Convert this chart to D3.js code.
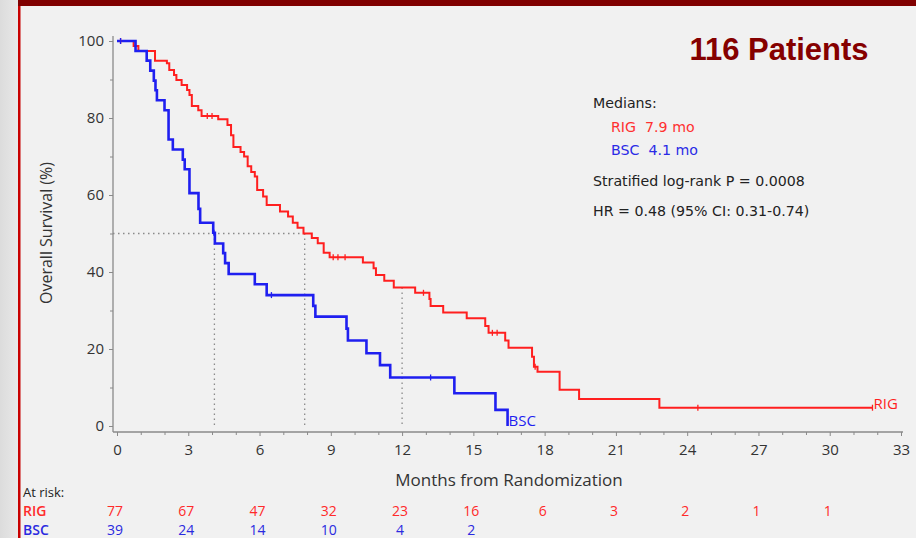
<!DOCTYPE html>
<html>
<head>
<meta charset="utf-8">
<script src="https://cdn.jsdelivr.net/npm/d3@7/dist/d3.min.js"></script>
<style>
  html, body { margin: 0; padding: 0; background: #f1f1f1; }
  svg { display: block; }
</style>
</head>
<body>
<svg id="chart" width="916" height="538"></svg>
<script>
// ---------------- DATA ----------------
const rigTime = [0, 0.7, 0.9, 1.6, 2.1, 2.2, 2.4, 2.5, 2.72, 2.95, 3.05, 3.15, 3.42, 3.56, 4.26, 4.65, 4.8, 4.9, 5.2, 5.35, 5.5, 5.65, 5.8, 5.9, 6.15, 6.3, 6.86, 7.2, 7.4, 7.6, 7.85, 8.2, 8.45, 8.7, 8.95, 10.35, 10.8, 10.9, 11.25, 11.65, 12.55, 13.15, 13.2, 13.73, 14.72, 15.5, 15.64, 16.34, 16.48, 17.47, 17.55, 17.7, 18.63, 19.45, 22.83, 31.8];
const rigSurv = [100, 98.7, 97.4, 94.9, 94.2, 92.5, 91.2, 89.9, 88.6, 87.3, 86.0, 83.1, 82.0, 80.5, 79.7, 78.2, 75.5, 72.5, 71.2, 70.0, 67.5, 66.0, 64.8, 61.3, 59.6, 57.4, 55.7, 54.4, 52.8, 51.5, 50.0, 48.8, 47.5, 45.0, 43.8, 42.5, 41.0, 39.2, 37.7, 36.0, 34.6, 33.0, 31.2, 29.5, 28.0, 26.0, 24.2, 22.2, 20.3, 18.0, 15.4, 14.1, 9.4, 7.0, 4.75, 4.75];
const rigCensT = [0.15, 3.8, 4.0, 9.1, 9.3, 9.6, 12.9, 15.8, 16.0, 17.6, 24.45, 31.8];

const bscTime = [0, 0.78, 1.25, 1.4, 1.55, 1.62, 1.68, 2.0, 2.17, 2.35, 2.77, 2.85, 3.05, 3.43, 3.5, 4.05, 4.12, 4.47, 4.55, 4.7, 5.8, 6.3, 8.26, 8.35, 9.66, 9.72, 10.5, 11.07, 11.5, 14.2, 15.93, 16.44];
const bscSurv = [100, 97.4, 94.9, 92.3, 89.7, 87.2, 84.6, 82.0, 74.4, 71.8, 69.2, 66.7, 60.5, 56.4, 52.8, 50.2, 47.4, 44.9, 42.3, 39.5, 36.8, 34.0, 31.2, 28.4, 25.3, 22.2, 18.9, 15.8, 12.6, 8.5, 4.2, 0];
const bscCensT = [0.15, 4.08, 6.5, 13.2];

const xTicks = [0, 3, 6, 9, 12, 15, 18, 21, 24, 27, 30, 33];
const yTicks = [0, 20, 40, 60, 80, 100];
const riskTimes = [0, 3, 6, 9, 12, 15, 18, 21, 24, 27, 30];
const rigRisk = [77, 67, 47, 32, 23, 16, 6, 3, 2, 1, 1];
const bscRisk = [39, 24, 14, 10, 4, 2];

const medians = { RIG: 7.9, BSC: 4.1 };
const landmark = 12;
const titleText = "116 Patients";
const legendLines = ["Medians:", "RIG  7.9 mo", "BSC  4.1 mo", "Stratified log-rank P = 0.0008", "HR = 0.48 (95% CI: 0.31-0.74)"];

// ---------------- SETUP ----------------
const RED = "#ff1f1f", BLUE = "#1f1ff0";
const svg = d3.select("#chart");
const font = "'Open Sans', 'Noto Sans', sans-serif";
const legFont = "'DejaVu Sans', Verdana, sans-serif";

svg.append("rect").attr("width", 916).attr("height", 538).attr("fill", "#f1f1f1");
const grad = svg.append("defs").append("linearGradient").attr("id", "lg").attr("x1", 0).attr("x2", 1);
grad.append("stop").attr("offset", 0).attr("stop-color", "#dcdcdc");
grad.append("stop").attr("offset", 1).attr("stop-color", "#e8e8e8");
svg.append("rect").attr("x", 0).attr("y", 0).attr("width", 18).attr("height", 538).attr("fill", "url(#lg)");
svg.append("rect").attr("x", 18).attr("y", 0).attr("width", 2.5).attr("height", 538).attr("fill", "#c80000");
svg.append("rect").attr("x", 18).attr("y", 0).attr("width", 898).attr("height", 6).attr("fill", "#800000");

const x = d3.scaleLinear().domain([0, 33]).range([117, 901]);
const y = d3.scaleLinear().domain([0, 100]).range([426, 41]);
const axisColor = "#8a8a8a";

// Y axis
const gy = svg.append("g").attr("transform", "translate(113,0)")
  .call(d3.axisLeft(y).tickValues(yTicks).tickSize(4).tickSizeOuter(0).tickPadding(5));
gy.select(".domain").remove();
gy.selectAll(".tick line").attr("stroke", axisColor);
gy.selectAll(".tick text").attr("font-family", font).attr("font-size", 15).attr("fill", "#333");
svg.append("g").attr("transform", "translate(113,0)")
  .call(d3.axisLeft(y).tickValues(d3.range(10, 100, 20)).tickSize(3).tickFormat(""))
  .call(g => g.select(".domain").remove())
  .selectAll("line").attr("stroke", axisColor);
svg.append("line").attr("x1", 113).attr("x2", 113).attr("y1", 36).attr("y2", 432)
  .attr("stroke", axisColor).attr("stroke-width", 1.3);

// X axis
const gx = svg.append("g").attr("transform", "translate(0,432)")
  .call(d3.axisBottom(x).tickValues(xTicks).tickSize(4).tickSizeOuter(0).tickPadding(8));
gx.select(".domain").remove();
gx.selectAll(".tick line").attr("stroke", axisColor);
gx.selectAll(".tick text").attr("font-family", font).attr("font-size", 15).attr("fill", "#333");
svg.append("g").attr("transform", "translate(0,432)")
  .call(d3.axisBottom(x).tickValues(d3.range(1, 33).filter(v => v % 3 !== 0)).tickSize(3).tickFormat(""))
  .call(g => g.select(".domain").remove())
  .selectAll("line").attr("stroke", axisColor);
svg.append("line").attr("x1", 113).attr("x2", 903).attr("y1", 432).attr("y2", 432)
  .attr("stroke", axisColor).attr("stroke-width", 1.3);

// Axis titles
svg.append("text").attr("x", 509).attr("y", 486).attr("text-anchor", "middle")
  .attr("font-family", font).attr("font-size", 17).attr("fill", "#333").text("Months from Randomization");
svg.append("text").attr("transform", "translate(52,233) rotate(-90)").attr("text-anchor", "middle")
  .attr("font-family", font).attr("font-size", 16).attr("fill", "#333").text("Overall Survival (%)");

// Reference dotted lines
const dot = { stroke: "#8a8a8a", "stroke-width": 1.3, "stroke-dasharray": "1.5,3.5" };
function refLine(x1, y1, x2, y2) {
  const l = svg.append("line").attr("x1", x1).attr("y1", y1).attr("x2", x2).attr("y2", y2);
  Object.entries(dot).forEach(([k, v]) => l.attr(k, v));
}
refLine(113, y(50), x(medians.RIG), y(50));
refLine(x(medians.BSC), y(50), x(medians.BSC), y(0));
refLine(x(medians.RIG), y(50), x(medians.RIG), y(0));
const rigAt12 = rigSurv[d3.bisectRight(rigTime, landmark) - 1];
refLine(x(landmark), y(rigAt12), x(landmark), y(0));

// Curves
const line = d3.line().curve(d3.curveStepAfter).x(d => x(d[0])).y(d => y(d[1]));
const rigData = rigTime.map((t, i) => [t, rigSurv[i]]);
const bscData = bscTime.map((t, i) => [t, bscSurv[i]]);
svg.append("path").datum(rigData).attr("d", line).attr("fill", "none").attr("stroke", RED).attr("stroke-width", 2);
svg.append("path").datum(bscData).attr("d", line).attr("fill", "none").attr("stroke", BLUE).attr("stroke-width", 2.6);

function survAt(times, surv, t) { return surv[Math.max(0, d3.bisectRight(times, t) - 1)]; }
svg.selectAll(".cr").data(rigCensT).join("line")
  .attr("x1", d => x(d)).attr("x2", d => x(d))
  .attr("y1", d => y(survAt(rigTime, rigSurv, d)) - 3).attr("y2", d => y(survAt(rigTime, rigSurv, d)) + 3)
  .attr("stroke", RED).attr("stroke-width", 1.3);
svg.selectAll(".cb").data(bscCensT).join("line")
  .attr("x1", d => x(d)).attr("x2", d => x(d))
  .attr("y1", d => y(survAt(bscTime, bscSurv, d)) - 3).attr("y2", d => y(survAt(bscTime, bscSurv, d)) + 3)
  .attr("stroke", BLUE).attr("stroke-width", 1.3);

// End labels
svg.append("text").attr("x", x(rigTime[rigTime.length - 1]) + 1).attr("y", y(rigSurv[rigSurv.length - 1]) + 1)
  .attr("font-family", font).attr("font-size", 15).attr("fill", RED).text("RIG");
svg.append("text").attr("x", x(bscTime[bscTime.length - 1]) + 1).attr("y", y(0))
  .attr("font-family", font).attr("font-size", 15).attr("fill", BLUE).text("BSC");

// Title & legend
svg.append("text").attr("x", 779).attr("y", 60).attr("text-anchor", "middle")
  .attr("font-family", "'Liberation Sans', Arial, sans-serif").attr("font-weight", "bold")
  .attr("font-size", 31).attr("fill", "#850000").text(titleText);
const legY = [108, 132, 155, 186, 216];
const legX = [593, 611, 611, 593, 593];
const legC = ["#222", "#ff3030", "#2a2ae6", "#222", "#222"];
legendLines.forEach((s, i) => {
  svg.append("text").attr("x", legX[i]).attr("y", legY[i]).attr("fill", legC[i])
    .attr("font-family", legFont).attr("font-size", 14.2).style("white-space", "pre").text(s);
});

// At risk table
svg.append("text").attr("x", 23).attr("y", 497).attr("font-family", font).attr("font-size", 13)
  .attr("fill", "#222").text("At risk:");
svg.append("text").attr("x", 23).attr("y", 515.5).attr("font-family", font).attr("font-size", 14)
  .attr("font-weight", 600).attr("fill", "#ff2a2a").text("RIG");
svg.append("text").attr("x", 23).attr("y", 535).attr("font-family", font).attr("font-size", 14)
  .attr("font-weight", 600).attr("fill", "#2a2ae0").text("BSC");
svg.selectAll(".rr").data(rigRisk).join("text")
  .attr("x", (d, i) => x(riskTimes[i]) - 2).attr("y", 515.5).attr("text-anchor", "middle")
  .attr("font-family", font).attr("font-size", 14).attr("fill", "#ff2a2a").text(d => d);
svg.selectAll(".br").data(bscRisk).join("text")
  .attr("x", (d, i) => x(riskTimes[i]) - 2).attr("y", 535).attr("text-anchor", "middle")
  .attr("font-family", font).attr("font-size", 14).attr("fill", "#2a2ae0").text(d => d);
</script>
</body>
</html>
